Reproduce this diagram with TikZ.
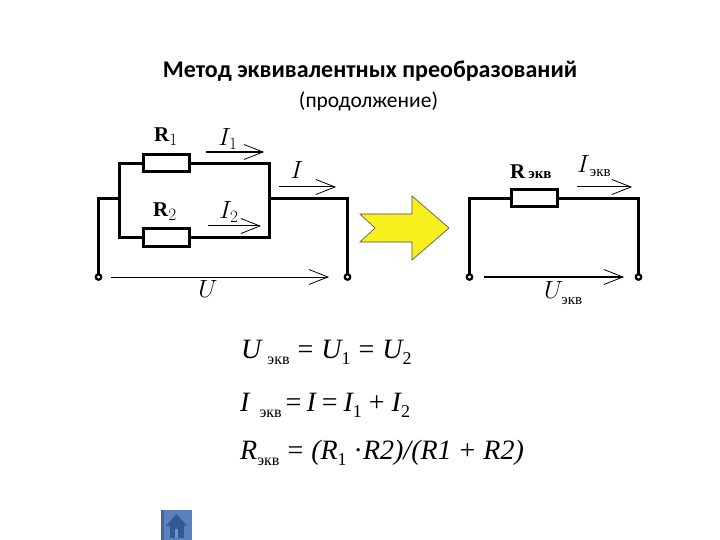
\documentclass[tikz,border=0pt]{standalone}
\usepackage{fontspec}
\setmainfont{Liberation Serif}
\newfontfamily\titlefont{Carlito}
\usetikzlibrary{arrows.meta}
\DeclareMathSizes{23}{23}{18}{14}
\DeclareMathSizes{21}{21}{18}{14}
\definecolor{iconblue}{HTML}{5B80BA}
\definecolor{icondark}{HTML}{2F5A94}
\definecolor{arrowyellow}{HTML}{F7F01E}
\tikzset{
  x=1pt,y=-1pt,
  wire/.style={line width=3pt,line cap=rect,line join=miter},
  resistor/.style={draw,line width=3pt,fill=white,minimum width=46pt,minimum height=17pt,inner sep=0pt,outer sep=0pt},
  terminal/.style={circle,draw,line width=2.2pt,fill=white,minimum size=5.5pt,inner sep=0pt},
  measure/.style={line width=1pt,-{Straight Barb[length=19pt,width=15pt,line width=.8pt]}},
  lbl/.style={inner sep=0pt,font=\fontsize{23}{26}\selectfont},
  rlbl/.style={inner sep=0pt,font=\fontsize{21}{24}\selectfont},
  eqn/.style={inner sep=0pt,anchor=base west,font=\fontsize{28}{31}\selectfont\itshape},
  titletext/.style={inner sep=0pt,font=\titlefont}
}
\newcommand{\sbs}[1]{\raisebox{-6pt}{\fontsize{16}{17}\selectfont\upshape #1}}
\newcommand{\num}[1]{\raisebox{-6pt}{\fontsize{18}{19}\selectfont\upshape #1}}
\newcommand{\lsbs}[1]{{\fontsize{15}{16}\selectfont\upshape #1}}
\newcommand{\eql}{\kern8pt{\upshape =}\kern8pt}
\begin{document}
\begin{tikzpicture}
\useasboundingbox (0,0) rectangle (720,540);
\fill[white] (0,0) rectangle (720,540);
% titles
\node[titletext,font=\titlefont\bfseries\fontsize{24}{28}\selectfont] (title) at (370,71) {Метод эквивалентных преобразований};
\node[titletext,font=\titlefont\fontsize{21.5}{26}\selectfont] (subtitle) at (368.5,101) {(продолжение)};
% left circuit
\node[resistor] (r1) at (166,163.5) {};
\node[resistor] (r2) at (166,237.5) {};
\coordinate (tl) at (119.5,163.5);
\coordinate (bl) at (119.5,237.5);
\coordinate (tr) at (269.5,163.5);
\coordinate (br) at (269.5,237.5);
\coordinate (ml) at (119.5,198.5);
\coordinate (mr) at (269.5,198.5);
\coordinate (el) at (98.5,198.5);
\coordinate (er) at (347.5,198.5);
\node[terminal] (ta) at (98.5,277) {};
\node[terminal] (tb) at (347.5,277) {};
\draw[wire] (r1.west) -- (tl) -- (bl) -- (r2.west);
\draw[wire] (r1.east) -- (tr) -- (br) -- (r2.east);
\draw[wire] (ta.north) -- (el) -- (ml);
\draw[wire] (mr) -- (er) -- (tb.north);
\coordinate (i1a) at (206,152); \coordinate (i1b) at (264,152);
\coordinate (ia) at (279,187);  \coordinate (ib) at (336,187);
\coordinate (i2a) at (208,226); \coordinate (i2b) at (261,226);
\coordinate (ua) at (111,277);  \coordinate (ub) at (329,277);
\draw[measure,line width=1.5pt] (i1a) -- (i1b);
\draw[measure] (ia) -- (ib);
\draw[measure] (i2a) -- (i2b);
\draw[measure] (ua) -- (ub);
\node[rlbl] (lr1) at (166,137) {$\mathbf{R}_{1}$};
\node[rlbl] (lr2) at (165,212) {$\mathbf{R}_{2}$};
\node[lbl] (li1) at (228,139) {$I_{1}$};
\node[lbl] (li) at (297,170) {$I$};
\node[lbl] (li2) at (229,212) {$I_{2}$};
\node[lbl] (lu) at (208,289) {$U$};
% big arrow
\draw[fill=arrowyellow,draw=black!70,line width=.6pt] (360,214) -- (412,214) -- (412,196) -- (449,228) -- (412,260) -- (412,242) -- (360,242) -- (375,228) -- cycle;
% right circuit
\node[resistor] (re) at (534,198.5) {};
\node[terminal] (tc) at (469.5,277) {};
\node[terminal] (td) at (638.5,277) {};
\coordinate (rl) at (469.5,198.5);
\coordinate (rr) at (638.5,198.5);
\draw[wire] (tc.north) -- (rl) -- (re.west);
\draw[wire] (re.east) -- (rr) -- (td.north);
\coordinate (iea) at (577,187); \coordinate (ieb) at (632,187);
\coordinate (uea) at (484,277); \coordinate (ueb) at (624,277);
\draw[measure] (iea) -- (ieb);
\draw[measure,line width=1.5pt] (uea) -- (ueb);
\node[rlbl,anchor=base west] (lre) at (510,179) {$\mathbf{R}$\kern3pt\lsbs{\bfseries экв}};
\node[lbl,anchor=base west] (lie) at (577,173) {$I$\raisebox{-4pt}{\lsbs{экв}}};
\node[lbl,anchor=base west] (lue) at (544,298) {$U$\kern-2pt\raisebox{-6pt}{\lsbs{экв}}};
% equations
\node[eqn] (eq1) at (241,358) {U\kern6pt\sbs{экв}\eql U\num{1}\eql U\num{2}};
\node[eqn] (eq2) at (240,411) {I\kern10pt\sbs{экв}\kern4pt{\upshape =}\kern5pt I\kern6pt{\upshape =}\kern6pt I\num{1}\kern7pt{\upshape +}\kern7pt I\num{2}};
\node[eqn] (eq3) at (240,459) {R\sbs{экв}\kern8pt{\upshape =}\kern8pt (R\num{1}\kern7pt{\upshape ·}R2)/(R1\kern8pt{\upshape +}\kern8pt R2)};
% home icon
\fill[iconblue] (161,510) rectangle (192,540);
\fill[iconblue!80!black] (161,510) rectangle (164,540);
\fill[icondark] (166,526) -- (176.5,514) -- (187,526) -- cycle;
\fill[icondark] (170,526) rectangle (184,538);
\fill[iconblue!85!white] (175,529) rectangle (178,538);
\end{tikzpicture}
\end{document}
